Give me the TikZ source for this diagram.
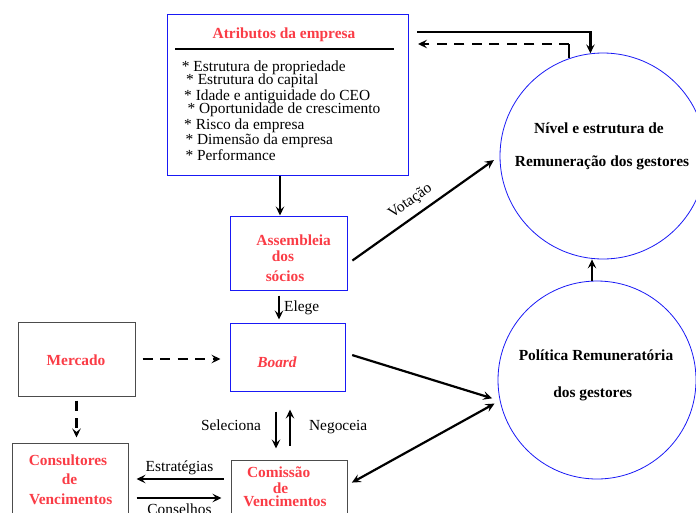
\documentclass[tikz,border=0pt]{standalone}
\usepackage{fontspec}
\setmainfont{Liberation Serif}
\usetikzlibrary{positioning, arrows.meta}
\definecolor{boxblue}{RGB}{25,25,245}
\definecolor{namered}{RGB}{250,60,70}
\newcommand{\boxname}[1]{\textcolor{namered}{\bfseries #1}}

\begin{document}
\begin{tikzpicture}[x=1pt, y=-1pt, font=\fontsize{15.4}{17}\selectfont,
  >={Stealth[length=9pt, width=8.5pt, inset=3.5pt]},
  bluebox/.style={draw=boxblue, line width=1pt, inner sep=0pt},
  greybox/.style={draw=black!70, line width=1pt, inner sep=0pt},
  ring/.style={circle, draw=boxblue, line width=0.8pt, inner sep=0pt},
  txt/.style={inner sep=0pt, text height=10pt, text depth=0pt},
  conn/.style={->, line width=2.2pt},
  dashline/.style={dash pattern=on 10pt off 7.5pt}]
\useasboundingbox (0,0) rectangle (696,512);

% caixas e circulos
\node[bluebox, minimum width=241pt, minimum height=161pt] (attr) at (287.5,94.5) {};
\node[bluebox, minimum width=117pt, minimum height=74pt] (assemb) at (288.5,253) {};
\node[bluebox, minimum width=115pt, minimum height=68pt] (board) at (287.5,357) {};
\node[greybox, minimum width=117pt, minimum height=74pt] (mercado) at (76.5,359) {};
\node[greybox, minimum width=116pt, minimum height=90pt] (consult) at (70,488) {};
\node[greybox, minimum width=116pt, minimum height=90pt] (comissao) at (289,505) {};
\node[ring, minimum size=206pt] (nivel) at (603,156) {};
\node[ring, minimum size=198pt] (politica) at (597,380) {};

% textos
\node[txt] (attrtitle) at (284,33) {\boxname{Atributos da empresa}};
\draw[line width=2.8pt] (175,49) -- (394,49);
\foreach \xx/\yy/\txt [count=\i] in {181.7/66.7/Estrutura de propriedade,
    186/79/Estrutura do capital, 184/95.7/Idade e antiguidade do CEO,
    187.3/108/Oportunidade de crescimento, 184/124/Risco da empresa,
    185.3/139/Dimensão da empresa, 185.3/155.7/Performance}
  \node[txt, anchor=west] (item\i) at (\xx,\yy) {* \txt};

\node[txt] (assemb1) at (293.7,240) {\boxname{Assembleia}};
\node[txt] (assemb2) at (283,256) {\boxname{dos}};
\node[txt] (assemb3) at (285,276.7) {\boxname{sócios}};
\node[txt] (boardname) at (277,362) {\boxname{\itshape Board}};
\node[txt] (mercadoname) at (76,360) {\boxname{Mercado}};
\node[txt] (consult1) at (68,460) {\boxname{Consultores}};
\node[txt] (consult2) at (69.5,479) {\boxname{de}};
\node[txt] (consult3) at (70.7,499) {\boxname{Vencimentos}};
\node[txt] (comissao1) at (278.7,472.7) {\boxname{Comissão}};
\node[txt] (comissao2) at (280.5,488) {\boxname{de}};
\node[txt] (comissao3) at (285,501) {\boxname{Vencimentos}};
\node[txt] (nivel1) at (599,128) {\bfseries Nível e estrutura de};
\node[txt] (nivel2) at (602,161.7) {\bfseries Remuneração dos gestores};
\node[txt] (politica1) at (596,355) {\bfseries Política Remuneratória};
\node[txt] (politica2) at (592.7,392.3) {\bfseries dos gestores};

% ligacoes
\coordinate (topin) at (417,32);
\coordinate (dashin) at (418,44);
\draw[conn] (topin) -| (nivel.97);
\draw[line width=2.2pt] (nivel.109) -- (nivel.109 |- dashin);
\draw[conn, dashline] (nivel.109 |- dashin) -- (dashin);
\draw[conn] ([xshift=-7.5pt]attr.south) -- ([xshift=-8.5pt]assemb.north);
\draw[conn, shorten <=5pt, shorten >=3pt] ([xshift=-9.5pt]assemb.south) -- ([xshift=-8.5pt]board.north)
  node[txt, midway, right=4pt] (elege) {Elege};
\draw[conn, shorten <=6pt, shorten >=7pt] ([yshift=-11pt]assemb.east) -- (nivel.west)
  node[txt, pos=0.47, sloped, above=10pt] (votacao) {Votação};
\draw[conn, dashline, shorten <=7pt, shorten >=9pt] (mercado.east) -- (mercado.east -| board.west);
\draw[conn, dashline, shorten <=4pt, shorten >=5pt] (mercado.south) -- (mercado.south |- consult.north);
\draw[conn, shorten <=20pt, shorten >=11pt] ([xshift=-11.5pt]board.south) -- ([xshift=-13pt]comissao.north)
  node[txt, midway, left=14pt] (seleciona) {Seleciona};
\draw[conn, shorten <=14pt, shorten >=18pt] ([xshift=1pt]comissao.north) -- ([xshift=2.5pt]board.south)
  node[txt, midway, right=18pt] (negoceia) {Negoceia};
\coordinate (estrat) at (0,479);
\coordinate (consel) at (0,498);
\draw[conn, shorten <=7pt, shorten >=8pt] (comissao.west |- estrat) -- (consult.east |- estrat)
  node[txt, midway, above=6pt] (estrategias) {Estratégias};
\draw[conn, shorten <=8pt, shorten >=9pt] (consult.east |- consel) -- (comissao.west |- consel)
  node[txt, midway, below=5pt] (conselhos) {Conselhos};
\draw[conn, shorten <=7pt, shorten >=8pt] ([yshift=4pt]board.east) -- (politica.192);
\draw[<->, line width=2.2pt, shorten <=5pt, shorten >=6pt] ([yshift=20pt]comissao.east) -- (politica.192);
\draw[conn] ([xshift=-5pt]politica.north) -- ([xshift=-11pt]nivel.south);
\end{tikzpicture}
\end{document}
